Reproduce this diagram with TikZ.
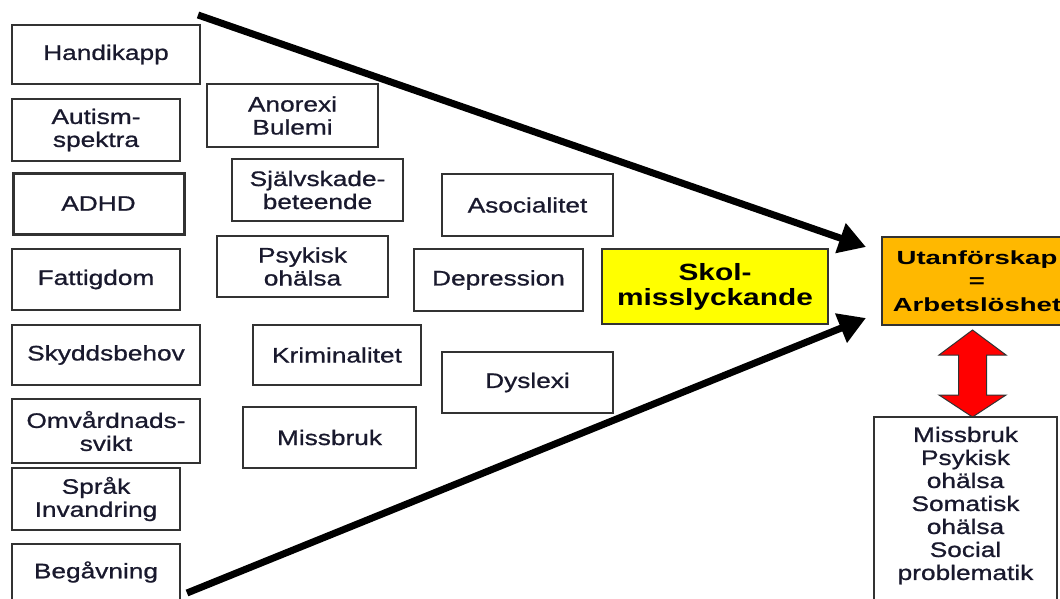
\documentclass[tikz,border=0pt]{standalone}
\usepackage{fontspec}
\setmainfont{Liberation Sans}[FakeStretch=1.27]
\newfontfamily\rutafont{Liberation Sans}[FakeStretch=1.25, FakeBold=0.9]
\newfontfamily\utanfont{Liberation Sans}[FakeStretch=1.45]
\usetikzlibrary{arrows.meta}
\definecolor{skolgul}{RGB}{255,255,0}
\definecolor{utanorange}{RGB}{255,184,0}
\definecolor{ramgra}{RGB}{50,50,50}
\definecolor{pilrod}{RGB}{255,0,0}
\definecolor{textmork}{RGB}{25,25,45}
\tikzset{
	ruta/.style 2 args={draw=ramgra, line width=1.5pt, minimum width=#1, minimum height=#2, inner sep=0pt, align=center, text=textmork, font=\rutafont\fontsize{21}{23}\selectfont},
	pil/.style={line width=7pt, -{Triangle[length=27pt,width=30pt]}},
}
\begin{document}
\begin{tikzpicture}[x=1pt,y=-1pt]
	\useasboundingbox (0,0) rectangle (1060,599);
	\clip (0,0) rectangle (1060,599);
	\node[ruta={188pt}{59pt}] (handikapp) at (106,54.5) {Handikapp};
	\node[ruta={168pt}{62pt}] (autism) at (96,130) {Autism-\\spektra};
	\node[ruta={171pt}{61pt}, line width=3pt] (adhd) at (98.5,203.5) {ADHD};
	\node[ruta={168pt}{61pt}] (fattigdom) at (96,279.5) {Fattigdom};
	\node[ruta={188pt}{60pt}] (skydd) at (106,355) {Skyddsbehov};
	\node[ruta={188pt}{64pt}] (omvard) at (106,431) {Omvårdnads-\\svikt};
	\node[ruta={168pt}{62pt}] (sprak) at (96,499) {Språk\\Invandring};
	\node[ruta={168pt}{56pt}] (begavning) at (96,572) {Begåvning};
	\node[ruta={171pt}{63pt}] (anorexi) at (292.5,115.5) {Anorexi\\Bulemi};
	\node[ruta={171pt}{62pt}] (sjalvskada) at (317.5,190) {Självskade-\\beteende};
	\node[ruta={171pt}{61pt}] (psykisk) at (302.5,266.5) {Psykisk\\ohälsa};
	\node[ruta={168pt}{60pt}] (krim) at (337,355) {Kriminalitet};
	\node[ruta={173pt}{61pt}] (missbruk) at (329.5,437.5) {Missbruk};
	\node[ruta={171pt}{62pt}] (asocial) at (527.5,205) {Asocialitet};
	\node[ruta={169pt}{62pt}] (depression) at (498.5,280) {Depression};
	\node[ruta={171pt}{61pt}] (dyslexi) at (527.5,382.5) {Dyslexi};
	\node[ruta={226pt}{75pt}, fill=skolgul, text=black, font=\fontsize{23.5}{25}\selectfont\bfseries] (skol) at (715,286.5) {Skol-\\misslyckande};
	\node[ruta={190pt}{88pt}, fill=utanorange, text=black, font=\utanfont\fontsize{19}{23.5}\selectfont\bfseries] (utan) at (977,281) {Utanförskap\\=\\Arbetslöshet};
	\node[ruta={183pt}{10pt}, anchor=north, inner ysep=10pt] (folj) at (965.5,416) {Missbruk\\Psykisk\\ohälsa\\Somatisk\\ohälsa\\Social\\problematik\\[14pt]\mbox{}};
	\coordinate (start1) at (198,15);
	\coordinate (start2) at (187,593);
	\coordinate (spets1) at (866,247);
	\coordinate (spets2) at (866,318);
	\draw[pil] (start1) -- (spets1);
	\draw[pil] (start2) -- (spets2);
	\draw[fill=pilrod, draw=ramgra, line width=1pt] (972.5,330) -- (1006,355) -- (986.5,355) -- (986.5,395) -- (1006,395) -- (972.5,417) -- (939,395) -- (958.5,395) -- (958.5,355) -- (939,355) -- cycle;
\end{tikzpicture}
\end{document}
